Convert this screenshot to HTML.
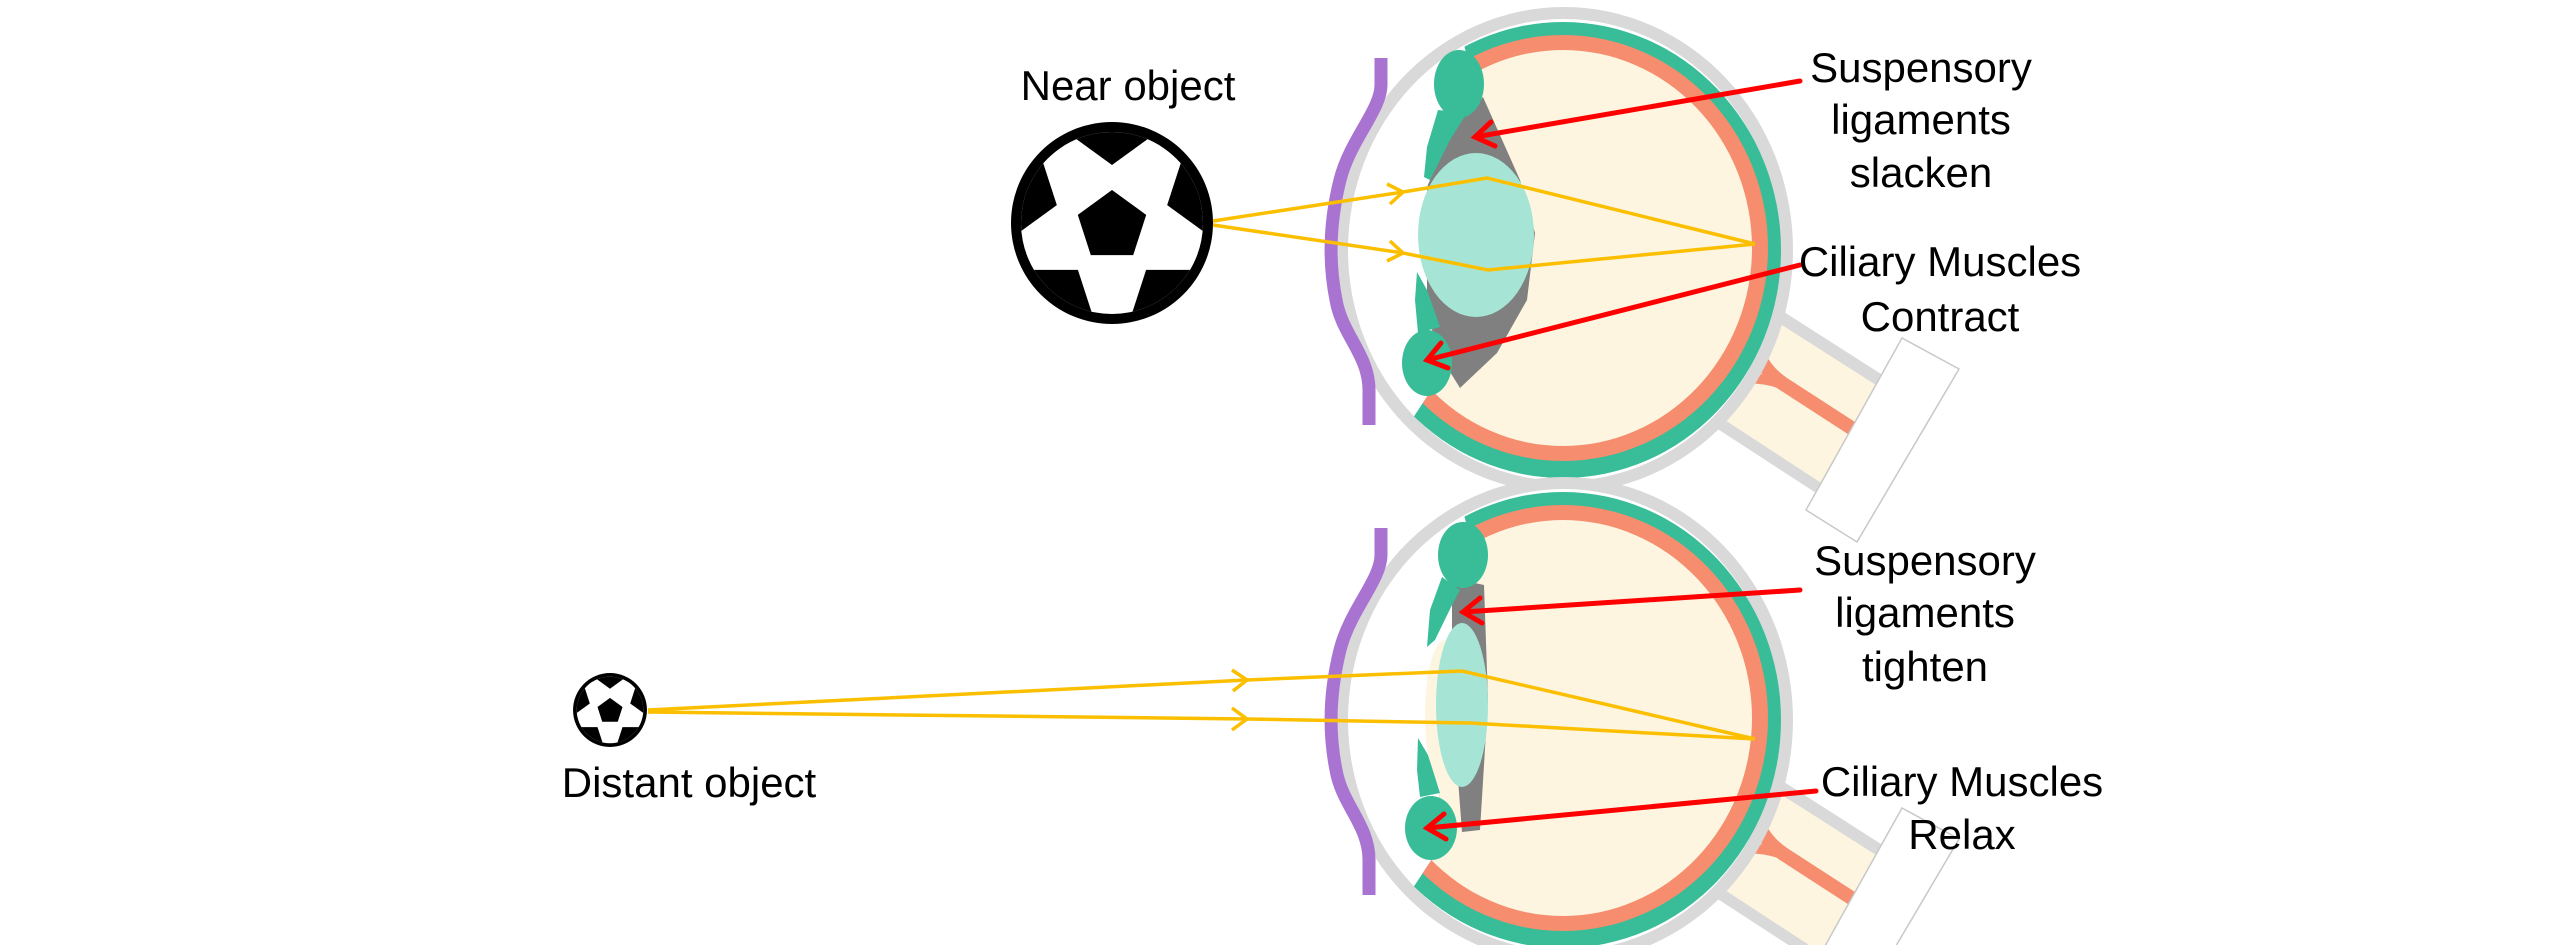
<!DOCTYPE html>
<html><head><meta charset="utf-8"><style>
html,body{margin:0;padding:0;background:#fff;width:2560px;height:945px;overflow:hidden;}
svg{display:block;}
text{font-family:"Liberation Sans",sans-serif;font-size:42px;fill:#000;text-anchor:middle;}
</style></head><body>
<svg width="2560" height="945" viewBox="0 0 2560 945" xmlns="http://www.w3.org/2000/svg">
<defs>
<clipPath id="ballclip"><circle cx="0" cy="0" r="91"/></clipPath>
<clipPath id="eyeclip"><polygon points="1452,0 1468,60 1450,200 1440,300 1438,380 1405,430 1390,600 2100,600 2100,0"/></clipPath>
<g id="ball">
<circle cx="0" cy="0" r="101" fill="#000"/>
<circle cx="0" cy="0" r="91" fill="#fff"/>
<g clip-path="url(#ballclip)" fill="#000">
<polygon id="op" points="0,-58 -39.9,-87 -24.7,-134 24.7,-134 39.9,-87"/>
<use href="#op" transform="rotate(72)"/>
<use href="#op" transform="rotate(144)"/>
<use href="#op" transform="rotate(216)"/>
<use href="#op" transform="rotate(288)"/>
</g>
<polygon points="0,-33 34.2,-8.1 21.2,32.1 -21.2,32.1 -34.2,-8.1" fill="#000"/>
</g>
<g id="globe">
<polygon points="1720,271 1917,397 1850,515 1650,385" fill="#d9d9d9"/>
<polygon points="1713,281 1912,408 1855,505 1656,375" fill="#fdf5e0"/>
<path d="M1752,335 Q1758,368 1785,385 L1890,453" stroke="#f68d6e" stroke-width="14" fill="none"/>
<path d="M1712,385 Q1750,372 1785,385" stroke="#f68d6e" stroke-width="10" fill="none"/>
<polygon points="1902,338 1959,369 1857,542 1806,510" fill="#fff" stroke="#c8c8c8" stroke-width="1.5"/>
<ellipse cx="1564" cy="250" rx="229" ry="243" fill="#d9d9d9"/>
<ellipse cx="1564" cy="250" rx="216" ry="231" fill="#fff"/>
<g clip-path="url(#eyeclip)">
<ellipse cx="1563" cy="250" rx="218" ry="228" fill="#38bd98"/>
<ellipse cx="1563" cy="248" rx="205" ry="213" fill="#f68d6e"/>
<ellipse cx="1563" cy="248" rx="189" ry="198" fill="#fdf5e0"/>
</g>
<path d="M1381,58 L1381,85 C1381,110 1350,140 1340,180 C1330,220 1328,260 1336,300 C1342,335 1369,355 1369,390 L1369,425" stroke="#a974d1" stroke-width="13" fill="none"/>
</g>
</defs>

<use href="#globe"/>
<polygon points="1467,113 1483,97 1520,180 1535,233 1527,300 1497,353 1460,388 1447,367 1427,317 1427,187 1447,140" fill="#808080"/>
<ellipse cx="1476" cy="235" rx="58" ry="82" fill="#a6e5d6"/>
<polygon points="1438,110 1467,113 1450,140 1430,180 1424,177 1427,147" fill="#38bd98"/>
<polygon points="1417,272 1427,290 1440,327 1418,333 1415,300" fill="#38bd98"/>
<ellipse cx="1459" cy="84" rx="25" ry="34" fill="#38bd98"/>
<ellipse cx="1427" cy="363" rx="25" ry="33" fill="#38bd98"/>

<use href="#globe" transform="translate(0,470)"/>
<polygon points="1452,578 1484,585 1488,700 1480,830 1462,832 1452,700" fill="#808080"/>
<ellipse cx="1445" cy="715" rx="20" ry="75" fill="#fdf5e0"/>
<ellipse cx="1462" cy="705" rx="26" ry="82" fill="#a6e5d6"/>
<polygon points="1442,577 1460,590 1452,605 1435,640 1427,647 1430,610" fill="#38bd98"/>
<polygon points="1418,738 1428,755 1440,793 1420,797 1417,770" fill="#38bd98"/>
<ellipse cx="1463" cy="555" rx="25" ry="33" fill="#38bd98"/>
<ellipse cx="1431" cy="828" rx="26" ry="32" fill="#38bd98"/>

<use href="#ball" transform="translate(1112,223)"/>
<use href="#ball" transform="translate(610,710) scale(0.366)"/>

<g stroke="#fbbf00" stroke-width="3.5" fill="none" stroke-linejoin="miter">
<polyline points="1213,221 1403,192 1487,178 1755,244"/>
<polyline points="1213,225 1403,253 1488,270 1755,244"/>
<polyline points="1387,184 1403,192 1390,204"/>
<polyline points="1390,241 1403,253 1387,261"/>
<polyline points="648,710 1247,680 1462,671 1755,739"/>
<polyline points="648,712 1247,719 1470,723 1755,739"/>
<polyline points="1232,670 1247,680 1233,691"/>
<polyline points="1232,708 1247,719 1232,730"/>
</g>

<g stroke="#ff0000" stroke-width="5" fill="none" stroke-linecap="round">
<line x1="1800" y1="81" x2="1475" y2="137"/>
<polyline points="1495,146 1475,137 1491,122"/>
<line x1="1800" y1="265" x2="1427" y2="360"/>
<polyline points="1448,368 1427,360 1441,343"/>
<line x1="1800" y1="590" x2="1463" y2="612"/>
<polyline points="1482,623 1463,612 1480,598"/>
<line x1="1816" y1="791" x2="1427" y2="828"/>
<polyline points="1446,839 1427,828 1444,814"/>
</g>

<text x="1128" y="100">Near object</text>
<text x="689" y="797">Distant object</text>
<text x="1921" y="82">Suspensory</text>
<text x="1921" y="134">ligaments</text>
<text x="1921" y="187">slacken</text>
<text x="1940" y="276">Ciliary Muscles</text>
<text x="1940" y="331">Contract</text>
<text x="1925" y="575">Suspensory</text>
<text x="1925" y="627">ligaments</text>
<text x="1925" y="681">tighten</text>
<text x="1962" y="796">Ciliary Muscles</text>
<text x="1962" y="849">Relax</text>
</svg>
</body></html>
